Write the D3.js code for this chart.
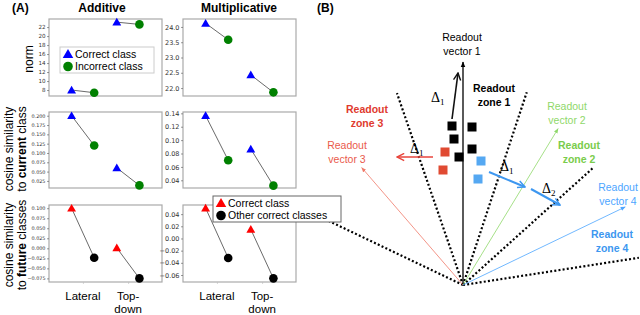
<!DOCTYPE html>
<html>
<head>
<meta charset="utf-8">
<script src="https://cdn.jsdelivr.net/npm/d3@7"></script>
<style>
  body { margin: 0; background: #fff; }
  svg { font-family: Arial, "Liberation Sans", Helvetica, sans-serif; }
</style>
</head>
<body>
<div id="chart"></div>
<script>
// ---- data (A) ----
var categories = ["Lateral", "Top-down"];

var addNormCorrect = [8.0, 23.1];
var addNormIncorrect = [7.4, 22.6];
var mulNormCorrect = [24.12, 22.43];
var mulNormIncorrect = [23.58, 21.86];

var addCurCorrect = [0.200, 0.060];
var addCurIncorrect = [0.120, 0.013];
var mulCurCorrect = [0.1365, 0.0867];
var mulCurIncorrect = [0.070, 0.032];

var addFutCorrect = [0.100, 0.001];
var addFutOther = [-0.0235, -0.075];
var mulFutCorrect = [0.050, 0.015];
var mulFutOther = [-0.032, -0.0655];

var addNormTicks = [8, 10, 12, 14, 16, 18, 20, 22];
var mulNormTicks = [22.0, 22.5, 23.0, 23.5, 24.0];
var addCurTicks = [0.025, 0.050, 0.075, 0.100, 0.125, 0.150, 0.175, 0.200];
var mulCurTicks = [0.04, 0.06, 0.08, 0.10, 0.12, 0.14];
var addFutTicks = [-0.075, -0.050, -0.025, 0.000, 0.025, 0.050, 0.075, 0.100];
var mulFutTicks = [-0.06, -0.04, -0.02, 0.00, 0.02, 0.04];

// ---- data (B) ----  angles in degrees from vertical, lengths in px
var zoneBounds = [
  { ang: -64.5, len: 150 }, { ang: -19, len: 203 }, { ang: 18.3, len: 203 },
  { ang: 48, len: 175 }, { ang: 81.2, len: 178 }
];
var readoutVectors = [
  { ang: 0, len: 223, color: "#000", w: 1.3 },
  { ang: 31.3, len: 183, color: "#8fd86a", w: 0.8 },
  { ang: -40.8, len: 155, color: "#f07a6a", w: 0.8 },
  { ang: 64.3, len: 180, color: "#4da6ff", w: 0.8 }
];
var blackSquares = [[-11, 159], [-9, 146], [-4, 128], [9, 158], [9, 136]];
var redSquares = [[-18, 133], [-20, 115]];
var blueSquares = [[18, 124], [15, 106]];
var deltaArrows = [
  { from: [-11, 166], to: [-5, 212], color: "#111", w: 1.6 },
  { from: [-30, 128], to: [-66, 128], color: "#e8453c", w: 1.6 },
  { from: [26, 113], to: [62, 98], color: "#3d97f0", w: 2 },
  { from: [68, 96], to: [97, 80], color: "#3d97f0", w: 2 }
];
var deltaLabels = [
  { x: -32, y: 183, sub: "1" }, { x: -53, y: 132, sub: "1" },
  { x: 37, y: 114, sub: "1" }, { x: 79, y: 92, sub: "2" }
];
var diagramLabels = [
  { lines: ["Readout", "vector 1"], x: -1, y: 244, color: "#000", bold: false },
  { lines: ["Readout", "zone 1"], x: 31, y: 193, color: "#000", bold: true },
  { lines: ["Readout", "vector 2"], x: 104, y: 175, color: "#8fd86a", bold: false },
  { lines: ["Readout", "zone 2"], x: 116, y: 136, color: "#7acc4c", bold: true },
  { lines: ["Readout", "vector 4"], x: 155, y: 94, color: "#4da6ff", bold: false },
  { lines: ["Readout", "zone 4"], x: 149, y: 47, color: "#3d97f0", bold: true },
  { lines: ["Readout", "zone 3"], x: -96, y: 172, color: "#e03a2e", bold: true },
  { lines: ["Readout", "vector 3"], x: -116, y: 136, color: "#ea5a4c", bold: false }
];

var svg = d3.select('#chart').append('svg')
  .attr('width', 640).attr('height', 315);

// titles
svg.append('text').attr('x', 12).attr('y', 12).attr('font-weight', 'bold')
  .attr('font-size', 12).text('(A)');
svg.append('text').attr('x', 102).attr('y', 12).attr('font-weight', 'bold')
  .attr('font-size', 12).attr('text-anchor', 'middle').text('Additive');
svg.append('text').attr('x', 239).attr('y', 12).attr('font-weight', 'bold')
  .attr('font-size', 12).attr('text-anchor', 'middle').text('Multiplicative');
svg.append('text').attr('x', 317).attr('y', 12).attr('font-weight', 'bold')
  .attr('font-size', 12).text('(B)');

// panels
var cols = [[49, 162], [183, 296]];
var rows = [[19, 96], [112, 188], [205, 282]];

var panels = [
  { c: 0, r: 0, tri: addNormCorrect, circ: addNormIncorrect, dom: [6.67, 23.8], ticks: addNormTicks, fmt: d3.format('d'), fs: 5.6, tc: 'blue', cc: 'green' },
  { c: 1, r: 0, tri: mulNormCorrect, circ: mulNormIncorrect, dom: [21.74, 24.26], ticks: mulNormTicks, fmt: d3.format('.1f'), fs: 6.5, tc: 'blue', cc: 'green' },
  { c: 0, r: 1, tri: addCurCorrect, circ: addCurIncorrect, dom: [0.006, 0.210], ticks: addCurTicks, fmt: d3.format('.3f'), fs: 4.9, tc: 'blue', cc: 'green' },
  { c: 1, r: 1, tri: mulCurCorrect, circ: mulCurIncorrect, dom: [0.0285, 0.142], ticks: mulCurTicks, fmt: d3.format('.2f'), fs: 6.5, tc: 'blue', cc: 'green' },
  { c: 0, r: 2, tri: addFutCorrect, circ: addFutOther, dom: [-0.084, 0.108], ticks: addFutTicks, fmt: d3.format('.3f'), fs: 4.9, tc: 'red', cc: 'black' },
  { c: 1, r: 2, tri: mulFutCorrect, circ: mulFutOther, dom: [-0.0715, 0.055], ticks: mulFutTicks, fmt: d3.format('.2f'), fs: 6.5, tc: 'red', cc: 'black' }
];

var tri = d3.symbol().type(d3.symbolTriangle).size(34);

panels.forEach(function(p) {
  var x = d3.scaleLinear().domain([-0.75, 1.75]).range(cols[p.c]);
  var y = d3.scaleLinear().domain(p.dom).range([rows[p.r][1], rows[p.r][0]]);
  var g = svg.append('g');

  g.append('rect')
    .attr('x', cols[p.c][0]).attr('y', rows[p.r][0])
    .attr('width', cols[p.c][1] - cols[p.c][0])
    .attr('height', rows[p.r][1] - rows[p.r][0])
    .attr('fill', '#fff').attr('stroke', '#aaa').attr('stroke-width', 1.2);

  var ax = g.append('g')
    .attr('transform', 'translate(' + cols[p.c][0] + ',0)')
    .call(d3.axisLeft(y).tickValues(p.ticks).tickFormat(p.fmt).tickSize(2).tickPadding(1.5));
  ax.select('.domain').remove();
  ax.selectAll('line').attr('stroke', '#555').attr('stroke-width', 0.6);
  ax.selectAll('text').attr('font-size', p.fs).attr('fill', '#333')
    .attr('font-family', '"DejaVu Sans", sans-serif');

  categories.forEach(function(cat, i) {
    g.append('line')
      .attr('x1', x(i - 0.25)).attr('y1', y(p.tri[i]))
      .attr('x2', x(i + 0.25)).attr('y2', y(p.circ[i]))
      .attr('stroke', '#444').attr('stroke-width', 0.8);
    g.append('path').attr('d', tri)
      .attr('transform', 'translate(' + x(i - 0.25) + ',' + (y(p.tri[i]) + 0.8) + ')')
      .attr('fill', p.tc);
    g.append('circle')
      .attr('cx', x(i + 0.25)).attr('cy', y(p.circ[i])).attr('r', 4.3)
      .attr('fill', p.cc);
  });

  if (p.r === 2) {
    var xa = g.append('g')
      .attr('transform', 'translate(0,' + rows[2][1] + ')')
      .call(d3.axisBottom(x).tickValues([0, 1]).tickFormat('').tickSize(2));
    xa.select('.domain').remove();
    xa.selectAll('line').attr('stroke', '#bbb').attr('stroke-width', 0.6);
    categories.forEach(function(cat, i) {
      var parts = cat === 'Top-down' ? ['Top-', 'down'] : [cat];
      parts.forEach(function(t, k) {
        g.append('text').attr('x', x(i)).attr('y', 300 + k * 13)
          .attr('text-anchor', 'middle').attr('font-size', 11.5).text(t);
      });
    });
  }
});

// y labels
function ylab(lines, cy) {
  lines.forEach(function(l, k) {
    var t = svg.append('text')
      .attr('transform', 'translate(' + l.bx + ',' + cy + ') rotate(-90)')
      .attr('text-anchor', 'middle').attr('font-size', 12);
    l.parts.forEach(function(pt) {
      t.append('tspan').attr('font-weight', pt[1] ? 'bold' : 'normal').text(pt[0]);
    });
  });
}
ylab([{ bx: 33, parts: [['norm', false]] }], 59);
ylab([{ bx: 13, parts: [['cosine similarity', false]] },
      { bx: 26, parts: [['to ', false], ['current', true], [' class', false]] }], 149);
ylab([{ bx: 13, parts: [['cosine similarity', false]] },
      { bx: 26, parts: [['to ', false], ['future', true], [' classes', false]] }], 245);

// legends
function legend(x0, y0, w, h, stroke, items) {
  var g = svg.append('g');
  g.append('rect').attr('x', x0).attr('y', y0).attr('width', w).attr('height', h)
    .attr('fill', '#fff').attr('stroke', stroke).attr('stroke-width', 1);
  items.forEach(function(it, k) {
    var cy = y0 + 7 + k * 12.5;
    if (it.shape === 'tri') {
      g.append('path').attr('d', d3.symbol().type(d3.symbolTriangle).size(48))
        .attr('transform', 'translate(' + (x0 + 8) + ',' + (cy + 1) + ')').attr('fill', it.color);
    } else {
      g.append('circle').attr('cx', x0 + 8).attr('cy', cy).attr('r', 4.8).attr('fill', it.color);
    }
    g.append('text').attr('x', x0 + 15).attr('y', cy + 3.8).attr('font-size', 10.5).text(it.label);
  });
}
legend(60, 47, 94, 26, '#ccc', [
  { shape: 'tri', color: 'blue', label: 'Correct class' },
  { shape: 'circ', color: 'green', label: 'Incorrect class' }
]);

// ---- (B) diagram ----
var bx = d3.scaleLinear().domain([0, 100]).range([463, 563]);
var by = d3.scaleLinear().domain([0, 100]).range([285, 185]);
function polar(a, l) {
  var r = a * Math.PI / 180;
  return [l * Math.sin(r), l * Math.cos(r)];
}

var defs = svg.append('defs');
function headMarker(id, color, open, size) {
  var m = defs.append('marker').attr('id', id)
    .attr('viewBox', '0 0 10 10').attr('refX', 9).attr('refY', 5)
    .attr('markerWidth', size).attr('markerHeight', size)
    .attr('markerUnits', 'userSpaceOnUse').attr('orient', 'auto');
  if (open) {
    m.append('path').attr('d', 'M1,1 L9,5 L1,9').attr('fill', 'none')
      .attr('stroke', color).attr('stroke-width', 1.6);
  } else {
    m.append('path').attr('d', 'M0,1 L10,5 L0,9 Z').attr('fill', color);
  }
}

var gb = svg.append('g');

// zone boundaries
zoneBounds.forEach(function(z) {
  var e = polar(z.ang, z.len);
  gb.append('line')
    .attr('x1', bx(0)).attr('y1', by(0)).attr('x2', bx(e[0])).attr('y2', by(e[1]))
    .attr('stroke', '#000').attr('stroke-width', 2.2).attr('stroke-dasharray', '2,2.2');
});

// readout vectors
readoutVectors.forEach(function(v, i) {
  var id = 'rv' + i;
  headMarker(id, v.color, false, i === 0 ? 6 : 5);
  var e = polar(v.ang, v.len);
  gb.append('line')
    .attr('x1', bx(0)).attr('y1', by(0)).attr('x2', bx(e[0])).attr('y2', by(e[1]))
    .attr('stroke', v.color).attr('stroke-width', v.w)
    .attr('marker-end', 'url(#' + id + ')');
});

// squares
function squares(list, color) {
  gb.selectAll(null).data(list).enter().append('rect')
    .attr('x', function(d) { return bx(d[0]) - 4.5; })
    .attr('y', function(d) { return by(d[1]) - 4.5; })
    .attr('width', 9).attr('height', 9).attr('fill', color);
}
squares(blackSquares, '#000');
squares(redSquares, '#e04a32');
squares(blueSquares, '#55a8f2');

// delta arrows
deltaArrows.forEach(function(a, i) {
  var id = 'da' + i;
  headMarker(id, a.color, true, 9);
  gb.append('line')
    .attr('x1', bx(a.from[0])).attr('y1', by(a.from[1]))
    .attr('x2', bx(a.to[0])).attr('y2', by(a.to[1]))
    .attr('stroke', a.color).attr('stroke-width', a.w)
    .attr('marker-end', 'url(#' + id + ')');
});

deltaLabels.forEach(function(d) {
  var t = gb.append('text').attr('x', bx(d.x)).attr('y', by(d.y))
    .attr('font-family', '"Liberation Serif", "DejaVu Serif", serif').attr('font-size', 14);
  t.append('tspan').text('\u0394');
  t.append('tspan').attr('font-size', 9).attr('dy', 3).text(d.sub);
});

// diagram labels
diagramLabels.forEach(function(d) {
  d.lines.forEach(function(l, k) {
    gb.append('text').attr('x', bx(d.x)).attr('y', by(d.y) + k * 14)
      .attr('text-anchor', 'middle').attr('font-size', 10.5)
      .attr('font-weight', d.bold ? 'bold' : 'normal')
      .attr('fill', d.color).text(l);
  });
});

// bottom legend drawn last, over the dotted line
legend(213, 196, 128, 26, '#666', [
  { shape: 'tri', color: 'red', label: 'Correct class' },
  { shape: 'circ', color: 'black', label: 'Other correct classes' }
]);
</script>
</body>
</html>
